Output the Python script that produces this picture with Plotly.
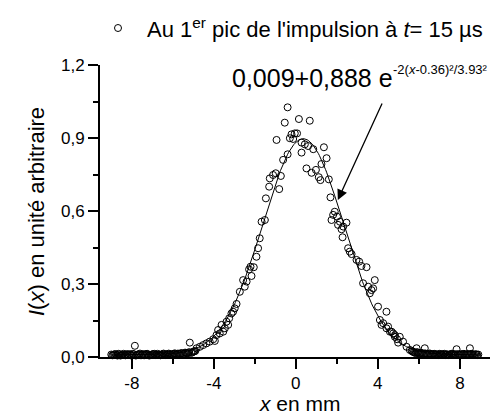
import plotly.graph_objects as go

# ---- data ----
tail_left_x = [-9.0, -8.9, -8.8, -8.7, -8.6, -8.5, -8.4, -8.3, -8.2, -8.1, -8.0, -7.9, -7.8, -7.7,
               -7.6, -7.5, -7.4, -7.3, -7.2, -7.1, -7.0, -6.9, -6.8, -6.7, -6.6, -6.5, -6.4, -6.3,
               -6.2, -6.1, -6.0, -5.9, -5.8, -5.7, -5.6, -5.5, -5.4, -5.3, -5.2, -5.1, -5.0, -4.9]
tail_left_y = [0.010, 0.008, 0.012, 0.006, 0.011, 0.009, 0.013, 0.007, 0.010, 0.012, 0.008, 0.011,
               0.006, 0.010, 0.014, 0.009, 0.007, 0.012, 0.010, 0.008, 0.011, 0.013, 0.009, 0.010,
               0.007, 0.012, 0.011, 0.009, 0.014, 0.010, 0.012, 0.015, 0.011, 0.013, 0.016, 0.012,
               0.018, 0.015, 0.020, 0.017, 0.022, 0.025]
tail_left2_x = [-8.95, -8.85, -8.75, -8.65, -8.55, -8.45, -8.35, -8.25, -8.15, -8.05, -7.95, -7.75,
                -7.65, -7.55, -7.45, -7.35, -7.25, -7.15, -7.05, -6.95, -6.85, -6.75, -6.65, -6.55,
                -6.45, -6.35, -6.25, -6.15, -6.05, -5.95, -5.85, -5.75, -5.65, -5.55, -5.45, -5.35,
                -5.25, -5.05, -4.95]
tail_left2_y = [0.007, 0.011, 0.009, 0.013, 0.006, 0.010, 0.008, 0.012, 0.009, 0.007, 0.013, 0.009,
                0.011, 0.007, 0.012, 0.010, 0.013, 0.006, 0.009, 0.012, 0.008, 0.013, 0.010, 0.009,
                0.014, 0.008, 0.012, 0.011, 0.009, 0.013, 0.010, 0.014, 0.012, 0.015, 0.013, 0.017,
                0.016, 0.019, 0.023]

core_x = [-7.85, -5.17, -4.84, -4.68, -4.52, -4.36, -4.20, -4.03, -3.95, -3.87, -3.79, -3.71, -3.62,
          -3.54, -3.46, -3.38, -3.30, -3.25, -3.14, -3.06, -2.98, -2.89, -2.73, -2.57, -2.49, -2.40,
          -2.28, -2.21, -2.16, -2.05, -1.92, -1.84, -1.76, -1.67, -1.51, -1.46, -1.30, -1.27, -1.11,
          -0.98, -0.94, -0.81, -0.73, -0.62, -0.54, -0.40, -0.40, -0.29, -0.21, -0.13, -0.05, 0.06,
          0.15, 0.28, 0.28, 0.44, 0.52, 0.60, 0.68, 0.77, 0.85, 0.98, 1.12, 1.20, 1.25, 1.37, 1.50,
          1.61, 1.69, 1.74, 1.82, 1.90, 2.01, 2.06, 2.15, 2.23, 2.28, 2.31, 2.47, 2.55, 2.63, 2.72,
          2.96, 3.09, 3.20, 3.28, 3.45, 3.53, 3.61, 3.69, 3.77, 3.85, 4.01, 4.10, 4.18, 4.26, 4.42,
          4.42, 4.50, 4.59, 4.67, 4.75, 4.83, 4.83, 4.94, 4.99, 5.07, 5.23, 5.40, 5.56,
          5.89, 6.29, 7.84, 8.49]
core_y = [0.046, 0.059, 0.036, 0.042, 0.049, 0.056, 0.063, 0.073, 0.066, 0.090, 0.111, 0.097, 0.132,
          0.104, 0.118, 0.145, 0.132, 0.159, 0.179, 0.186, 0.200, 0.218, 0.268, 0.316, 0.289, 0.310,
          0.360, 0.371, 0.333, 0.369, 0.412, 0.447, 0.488, 0.556, 0.563, 0.652, 0.700, 0.734, 0.748,
          0.755, 0.892, 0.690, 0.744, 0.810, 0.963, 1.026, 0.833, 0.899, 0.915, 0.896, 0.919, 0.919,
          0.978, 0.881, 0.840, 0.874, 0.775, 0.867, 0.971, 0.757, 0.854, 0.769, 0.739, 0.727, 0.793,
          0.862, 0.817, 0.730, 0.656, 0.563, 0.584, 0.597, 0.577, 0.543, 0.556, 0.525, 0.492, 0.536,
          0.552, 0.447, 0.433, 0.423, 0.399, 0.392, 0.374, 0.303, 0.369, 0.289, 0.262, 0.275, 0.282,
          0.316, 0.207, 0.152, 0.132, 0.139, 0.186, 0.118, 0.125, 0.104, 0.104, 0.097, 0.083, 0.090,
          0.073, 0.059, 0.083, 0.063, 0.042, 0.029,
          0.036, 0.036, 0.032, 0.036]

tail_right_x = [5.7, 5.8, 5.9, 6.0, 6.1, 6.2, 6.3, 6.4, 6.5, 6.6, 6.7, 6.8, 6.9, 7.0, 7.1, 7.2, 7.3,
                7.4, 7.5, 7.6, 7.7, 7.8, 7.9, 8.0, 8.1, 8.2, 8.3, 8.4, 8.5, 8.6, 8.7, 8.8, 8.9]
tail_right_y = [0.022, 0.018, 0.020, 0.015, 0.017, 0.013, 0.015, 0.012, 0.014, 0.010, 0.012, 0.011,
                0.009, 0.013, 0.010, 0.012, 0.008, 0.011, 0.010, 0.013, 0.009, 0.011, 0.012, 0.008,
                0.010, 0.013, 0.009, 0.011, 0.010, 0.012, 0.009, 0.011, 0.010]
tail_right2_x = [5.65, 5.75, 5.85, 5.95, 6.05, 6.15, 6.25, 6.35, 6.45, 6.55, 6.65, 6.75, 6.85, 6.95,
                 7.05, 7.15, 7.25, 7.35, 7.45, 7.55, 7.65, 7.75, 7.95, 8.05, 8.15, 8.25, 8.35, 8.45,
                 8.55, 8.65, 8.75, 8.85]
tail_right2_y = [0.025, 0.020, 0.016, 0.018, 0.014, 0.016, 0.011, 0.013, 0.010, 0.014, 0.009, 0.013,
                 0.011, 0.008, 0.012, 0.009, 0.013, 0.010, 0.008, 0.011, 0.013, 0.010, 0.009, 0.012,
                 0.011, 0.008, 0.012, 0.010, 0.013, 0.009, 0.011, 0.008]

# Gaussian fit parameters as printed on the chart
fit_y0, fit_A, fit_xc, fit_w = 0.009, 0.888, 0.36, 3.93
fit_x = [i * 0.05 - 9.0 for i in range(361)]
fit_y = [fit_y0 + fit_A * 2.718281828459045 ** (-2 * (x - fit_xc) ** 2 / fit_w ** 2) for x in fit_x]

x_ticks = [-8, -4, 0, 4, 8]
y_ticks = [0.0, 0.3, 0.6, 0.9, 1.2]

pts_x = tail_left_x + tail_left2_x + core_x + tail_right_x + tail_right2_x
pts_y = tail_left_y + tail_left2_y + core_y + tail_right_y + tail_right2_y

FONT = "Liberation Sans, Arial, sans-serif"

fig = go.Figure()
fig.add_trace(go.Scatter(x=fit_x, y=fit_y, mode="lines",
                         line=dict(color="black", width=1), showlegend=False))
fig.add_trace(go.Scatter(x=pts_x, y=pts_y, mode="markers", cliponaxis=False,
                         marker=dict(symbol="circle-open", size=7, color="black",
                                     line=dict(color="black", width=1)),
                         showlegend=False))

axis_common = dict(showline=True, linecolor="black", linewidth=2, ticks="outside",
                   ticklen=10, tickwidth=2, tickcolor="black", showgrid=False, zeroline=False,
                   tickfont=dict(family=FONT, size=17, color="black"), mirror=False)

fig.update_xaxes(range=[-9.55, 9.47], tickvals=x_ticks, ticktext=[str(v) for v in x_ticks],
                 minor=dict(tickvals=[-6, -2, 2, 6], ticklen=5, tickwidth=2, tickcolor="black",
                            ticks="outside"),
                 **axis_common)
fig.update_yaxes(range=[0, 1.2], tickvals=y_ticks,
                 ticktext=[f"{v:.1f}".replace(".", ",") for v in y_ticks],
                 minor=dict(tickvals=[0.15, 0.45, 0.75, 1.05], ticklen=5, tickwidth=2,
                            tickcolor="black", ticks="outside"),
                 **axis_common)

# page body has an 8px margin: shrink the figure so page pixels match the reference
OFF = 8
W, H = 500 - OFF, 416 - OFF
L, R, T, B = 100 - OFF, 10, 65 - OFF, 59
pw, ph = W - L - R, H - T - B


def px(xp):  # page pixel x -> paper
    return (xp - OFF - L) / pw


def py(yp):  # page pixel y -> paper
    return (H - B - (yp - OFF)) / ph


annotations = [
    dict(text="Au 1<sup>er</sup> pic de l'impulsion à <i>t</i>= 15 µs", xref="paper", yref="paper",
         x=px(145), y=py(28), xanchor="left", yanchor="middle", showarrow=False,
         font=dict(family=FONT, size=22, color="black")),
    dict(text="0,009+0,888 e", xref="paper", yref="paper", x=px(230), y=py(78),
         xanchor="left", yanchor="middle", showarrow=False,
         font=dict(family=FONT, size=25, color="black")),
    dict(text="-2(<i>x</i>-0.36)²/3.93²", xref="paper", yref="paper", x=px(391), y=py(69),
         xanchor="left", yanchor="middle", showarrow=False,
         font=dict(family=FONT, size=13, color="black")),
    dict(text="", x=2.05, y=0.645, ax=4.24, ay=1.048, axref="x", ayref="y", xref="x", yref="y",
         showarrow=True, arrowhead=2, arrowsize=1.6, arrowwidth=1.3, arrowcolor="black"),
    dict(text="<i>x</i> en mm", xref="paper", yref="paper", x=px(300), y=py(403),
         xanchor="center", yanchor="middle", showarrow=False,
         font=dict(family=FONT, size=21, color="black")),
    dict(text="<i>I</i>(<i>x</i>) en unité arbitraire", xref="paper", yref="paper", x=px(36),
         y=py(212), xanchor="center", yanchor="middle", showarrow=False, textangle=-90,
         font=dict(family=FONT, size=22, color="black")),
]

shapes = [dict(type="circle", xref="paper", yref="paper", xsizemode="pixel", ysizemode="pixel",
               xanchor=px(118), yanchor=py(28), x0=-3.5, x1=3.5, y0=-3.5, y1=3.5,
               line=dict(color="black", width=1))]

fig.update_layout(width=W, height=H, margin=dict(l=L, r=R, t=T, b=B, pad=0),
                  paper_bgcolor="white", plot_bgcolor="white", showlegend=False,
                  annotations=annotations, shapes=shapes,
                  font=dict(family=FONT, color="black"))

fig.write_html("out.html")
